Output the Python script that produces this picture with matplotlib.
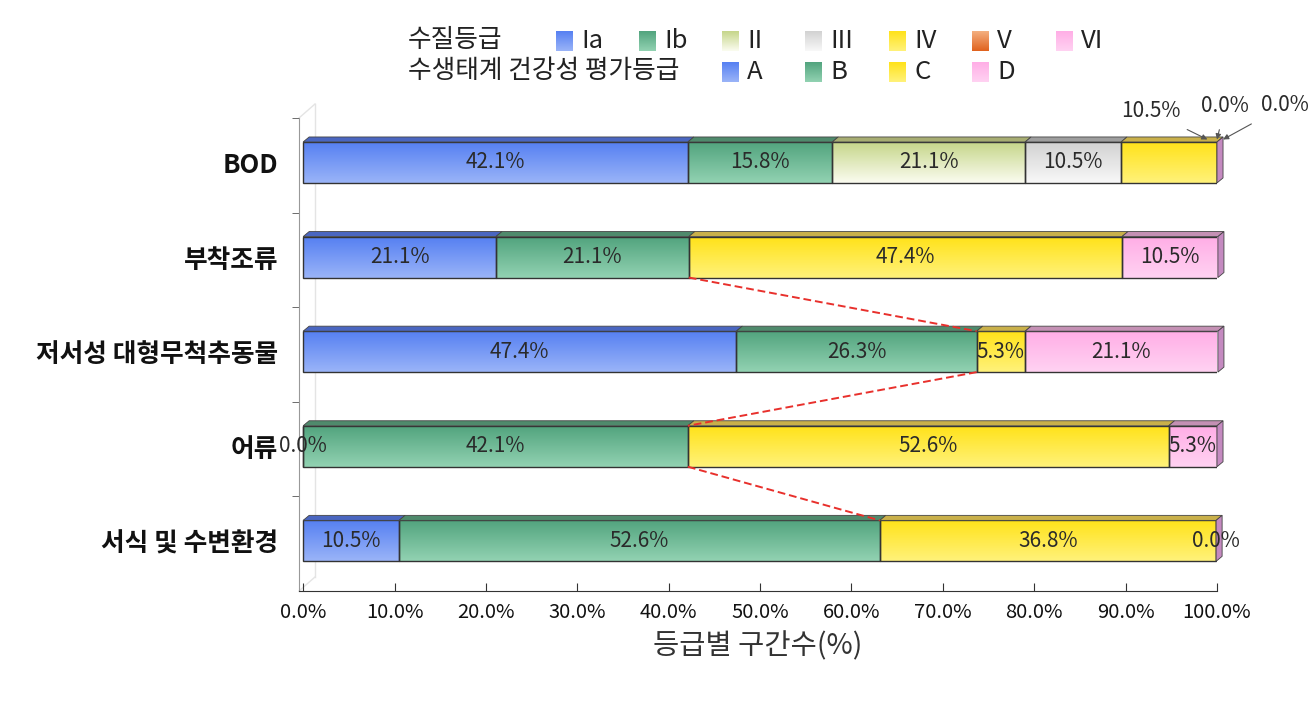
import numpy as np
import matplotlib
matplotlib.use('Agg')
import matplotlib.pyplot as plt
from matplotlib.patches import Polygon
from matplotlib.colors import to_rgb

plt.rcParams['font.family'] = ['Noto Sans CJK KR', 'DejaVu Sans']

# data
categories = ['BOD', '부착조류', '저서성 대형무척추동물', '어류', '서식 및 수변환경']
wq_grades = ['Ia', 'Ib', 'II', 'III', 'IV', 'V', 'VI']
eco_grades = ['A', 'B', 'C', 'D']
bod = [42.1, 15.8, 21.1, 10.5, 10.5, 0.0, 0.0]
periphyton = [21.1, 21.1, 47.4, 10.5]
benthic = [47.4, 26.3, 5.3, 21.1]
fish = [0.0, 42.1, 52.6, 5.3]
habitat = [10.5, 52.6, 36.8, 0.0]
xticks = np.arange(0, 101, 10)

# (top of gradient, bottom of gradient, 3d top face)
colors = {
    'Ia': ('#5680f2', '#9ab4f8', '#4a66c0'),
    'Ib': ('#52a47e', '#92d2b2', '#4f8a6c'),
    'II': ('#c6d68a', '#fbfcf0', '#a7ad72'),
    'III': ('#d2d2d2', '#f8f8f8', '#9e9e9e'),
    'IV': ('#ffe21a', '#fff27a', '#c9b04a'),
    'V': ('#f4b080', '#e0621e', '#b86a40'),
    'VI': ('#ffaee6', '#ffd2f2', '#c490b4'),
}
colors['A'] = colors['Ia']
colors['B'] = colors['Ib']
colors['C'] = colors['IV']
colors['D'] = colors['VI']
side_color = '#c48ac0'

rows = [(bod, wq_grades), (periphyton, eco_grades), (benthic, eco_grades),
        (fish, eco_grades), (habitat, eco_grades)]


def grad(c1, c2, n=64):
    a = np.array(to_rgb(c1))
    b = np.array(to_rgb(c2))
    t = np.linspace(0, 1, n)[:, None]
    return (a + (b - a) * t)[:, None, :]


fig = plt.figure(figsize=(13.1, 7.11), dpi=100)

# overlay in pixel coords for legend and back wall
lax = fig.add_axes([0, 0, 1, 1], zorder=0)
lax.set_xlim(0, 1310)
lax.set_ylim(711, 0)
lax.axis('off')

ax = fig.add_axes([299 / 1310, 1 - 591 / 711, 918 / 1310, 473 / 711], zorder=1)
ax.patch.set_alpha(0)

# faint 3d back wall
for xs, ys in [([299, 315], [118, 104]), ([299, 315], [591, 577]), ([315, 315], [104, 577])]:
    lax.plot(xs, ys, color='#e4e4e4', lw=1)

H = 0.433
dx, dy = 0.66, 0.053
num_font = dict(fontsize=15, fontweight='light', color='#2a2a2a')

for i, (vals, keys) in enumerate(rows):
    left = np.concatenate([[0], np.cumsum(vals)[:-1]])
    bars = ax.barh([i] * len(vals), vals, left=left, height=H, facecolor='none',
                   edgecolor='#333333', lw=1.0, zorder=4)
    for b, k, v in zip(bars, keys, vals):
        x0, y0, w, h = b.get_x(), b.get_y(), b.get_width(), b.get_height()
        if w <= 0:
            continue
        ctop, cbot, cface = colors[k]
        ax.imshow(grad(ctop, cbot), extent=(x0, x0 + w, y0 + h, y0), aspect='auto',
                  interpolation='bilinear', zorder=3)
        ax.add_patch(Polygon([(x0, y0), (x0 + w, y0), (x0 + w + dx, y0 - dy), (x0 + dx, y0 - dy)],
                             closed=True, facecolor=cface, edgecolor='#444444', lw=0.6,
                             zorder=4, clip_on=False))
    # right side face
    xe = sum(vals)
    y0 = i - H / 2
    ax.add_patch(Polygon([(xe, y0), (xe + dx, y0 - dy), (xe + dx, y0 + H - dy), (xe, y0 + H)],
                         closed=True, facecolor=side_color, edgecolor='#444444', lw=0.6,
                         zorder=4, clip_on=False))

    # value labels
    for j, (b, v) in enumerate(zip(bars, vals)):
        x0, w = b.get_x(), b.get_width()
        if i == 0 and j >= 4:
            continue
        ax.text(x0 + w / 2, i, f'{v:.1f}%', ha='center', va='center', zorder=6,
                clip_on=False, **num_font)

# callouts for the small BOD segments
bod_left = np.concatenate([[0], np.cumsum(bod)[:-1]])
callouts = [(4, 0.9, (-57, 28)), (5, 0.0, (8, 33)), (6, 0.0, (62, 34))]
for j, frac, off in callouts:
    xt = bod_left[j] + bod[j] * frac + (dx if j == 6 else 0)
    ax.annotate(f'{bod[j]:.1f}%', xy=(xt, -H / 2 - dy * 0.5), xytext=off,
                textcoords='offset pixels', ha='center', va='center', zorder=7,
                annotation_clip=False,
                arrowprops=dict(arrowstyle='-|>', color='#555555', lw=0.8,
                                mutation_scale=8, shrinkA=7, shrinkB=0),
                **num_font)

# red dashed connectors for A+B share
good = [r[0][0] + r[0][1] for r in rows[1:]]
for k in range(len(good) - 1):
    i = k + 1
    ax.plot([good[k], good[k + 1]], [i + H / 2, i + 1 - H / 2], color='#e8302c',
            ls=(0, (4, 2)), lw=1.4, zorder=5)

ax.set_xlim(-0.45, 100)
ax.set_ylim(4.53, -0.47)
ax.set_xticks(xticks)
ax.set_xticklabels([f'{t:.1f}%' for t in xticks], fontsize=14.5, color='#111111',
                   fontweight='light')
ax.set_yticks(range(len(categories)))
ax.set_yticklabels(categories, fontsize=18.5, fontweight='bold', color='#111111')
ax.set_yticks(np.arange(len(categories)) - 0.47, minor=True)
ax.tick_params(axis='y', which='major', length=0, pad=15)
ax.tick_params(axis='y', which='minor', length=5, color='#555555', direction='out')
ax.tick_params(axis='x', length=6, direction='in', color='#333333', pad=8)
ax.spines['top'].set_visible(False)
ax.spines['right'].set_visible(False)
ax.spines['left'].set_color('#999999')
ax.spines['bottom'].set_color('#333333')
ax.set_xlabel('등급별 구간수(%)', fontsize=20.5, color='#333333', labelpad=6)

# legend
leg_font = dict(fontsize=18.5, va='center', ha='left', color='#222222')
lax.text(408, 40, '수질등급', **leg_font)
lax.text(408, 71, '수생태계 건강성 평가등급', **leg_font)
row1_x = [556, 639, 722, 805, 889, 972, 1056]
row2_x = [722, 805, 889, 972]
for names, xs, yc in [(wq_grades, row1_x, 41), (eco_grades, row2_x, 72)]:
    for name, x in zip(names, xs):
        ctop, cbot, _ = colors[name]
        lax.imshow(grad(ctop, cbot), extent=(x, x + 17, yc + 10, yc - 10), aspect='auto',
                   interpolation='bilinear')
        lax.text(x + 25, yc, name, **leg_font)
lax.set_xlim(0, 1310)
lax.set_ylim(711, 0)

fig.savefig('out.png', dpi=100)
